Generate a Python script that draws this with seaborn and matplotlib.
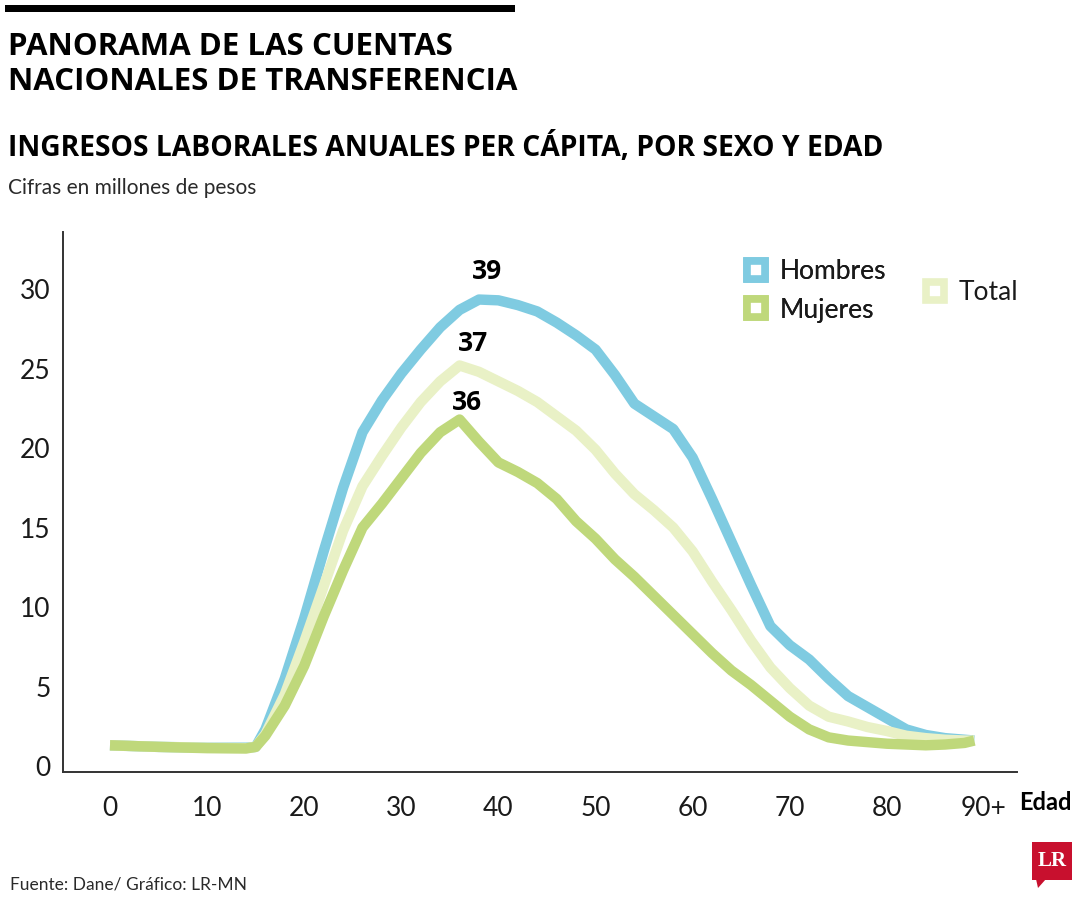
import matplotlib
matplotlib.use("Agg")
import matplotlib.pyplot as plt
from matplotlib.lines import Line2D
from matplotlib.patches import Rectangle, Polygon
import seaborn as sns
import pandas as pd

# ---------------- data ----------------
edad = [0, 5, 10, 14, 15, 16, 18, 20, 22, 24, 26, 28, 30, 32, 34, 36, 38, 40,
        42, 44, 46, 48, 50, 52, 54, 56, 58, 60, 62, 64, 66, 68, 70, 72, 74,
        76, 78, 80, 82, 84, 86, 88, 89]
hombres = [1.3, 1.2, 1.15, 1.15, 1.2, 2.3, 5.5, 9.3, 13.5, 17.5, 21.0, 23.0,
           24.7, 26.2, 27.6, 28.7, 29.35, 29.3, 29.0, 28.6, 27.9, 27.1, 26.2,
           24.6, 22.8, 22.0, 21.2, 19.4, 16.8, 14.1, 11.4, 8.8, 7.6, 6.7, 5.5,
           4.4, 3.7, 3.0, 2.3, 1.95, 1.75, 1.65, 1.6]
total = [1.3, 1.2, 1.15, 1.12, 1.2, 2.0, 4.5, 7.8, 11.3, 14.8, 17.6, 19.5,
         21.3, 22.9, 24.2, 25.2, 24.8, 24.2, 23.6, 22.9, 22.0, 21.1, 19.9,
         18.4, 17.1, 16.1, 15.0, 13.5, 11.6, 9.8, 7.9, 6.2, 4.9, 3.8, 3.1,
         2.8, 2.45, 2.2, 1.9, 1.75, 1.65, 1.6, 1.6]
mujeres = [1.3, 1.2, 1.12, 1.1, 1.2, 1.9, 3.8, 6.3, 9.4, 12.3, 15.0, 16.5,
           18.1, 19.7, 21.0, 21.8, 20.4, 19.1, 18.5, 17.8, 16.8, 15.4, 14.3,
           13.0, 11.9, 10.7, 9.5, 8.3, 7.1, 6.0, 5.1, 4.1, 3.1, 2.3, 1.8, 1.6,
           1.5, 1.4, 1.35, 1.3, 1.35, 1.45, 1.6]
series_names = ["Hombres", "Total", "Mujeres"]
series_colors = {"Hombres": "#7fcbe1", "Total": "#e9f1c6", "Mujeres": "#bfd87b"}
peak_labels = {"Hombres": "39", "Total": "37", "Mujeres": "36"}
xtick_vals = [0, 10, 20, 30, 40, 50, 60, 70, 80, 90]
xtick_labels = ["0", "10", "20", "30", "40", "50", "60", "70", "80", "90+"]
ytick_vals = [0, 5, 10, 15, 20, 25, 30]

df = pd.concat([
    pd.DataFrame({"Edad": edad, "Valor": hombres, "Serie": "Hombres"}),
    pd.DataFrame({"Edad": edad, "Valor": total, "Serie": "Total"}),
    pd.DataFrame({"Edad": edad, "Valor": mujeres, "Serie": "Mujeres"}),
])

# ---------------- style ----------------
sns.set_theme(style="white")
THIN = ["Lato", "DejaVu Sans"]
BOLD = ["Open Sans", "DejaVu Sans"]
plt.rcParams["font.family"] = THIN
plt.rcParams["font.weight"] = "normal"
TXT = "#1a1a1a"

fig = plt.figure(figsize=(10.8, 9), dpi=100)
ax = fig.add_axes([63 / 1080, 128 / 900, (1017 - 63) / 1080, (772 - 232) / 900])

sns.lineplot(data=df, x="Edad", y="Valor", hue="Serie", hue_order=series_names,
             palette=series_colors, linewidth=7.5, legend=False, ax=ax,
             solid_joinstyle="round", solid_capstyle="butt")

ax.set_xlim(-4.84, 93.4)
ax.set_ylim(-0.38, 33.6)
ax.set_xticks(xtick_vals)
ax.set_xticklabels(xtick_labels)
ax.set_yticks(ytick_vals)
ax.tick_params(axis="both", length=0, labelsize=19, colors=TXT)
ax.tick_params(axis="x", pad=17)
ax.tick_params(axis="y", pad=9)
ax.set_xlabel("")
ax.set_ylabel("")
for s in ["top", "right"]:
    ax.spines[s].set_visible(False)
for s in ["left", "bottom"]:
    ax.spines[s].set_color("#333333")
    ax.spines[s].set_linewidth(1.4)

# peak labels
peak_offsets = {"Hombres": (6, 20), "Total": (10, 16), "Mujeres": (5, 12)}
for name, vals in zip(series_names, [hombres, total, mujeres]):
    i = max(range(len(vals)), key=lambda k: vals[k])
    ax.annotate(peak_labels[name], (edad[i], vals[i]), xytext=peak_offsets[name],
                textcoords="offset points", ha="center", va="center",
                fontsize=19, fontweight="bold", family=BOLD, color="black")

# legends
def handle(c):
    return Line2D([], [], marker="s", ls="", ms=13.5, mew=5.5,
                  mfc="white", mec=c)

leg_kw = dict(frameon=False, handlelength=1.0, handletextpad=0.4,
              borderpad=0, borderaxespad=0, labelcolor=TXT,
              prop={"family": THIN, "size": 19, "weight": "normal"})
leg1 = fig.legend([handle(series_colors["Hombres"]), handle(series_colors["Mujeres"])],
                  ["Hombres", "Mujeres"], loc="center left",
                  bbox_to_anchor=(743 / 1080, 1 - 291 / 900),
                  labelspacing=0.5, **leg_kw)
fig.legend([handle(series_colors["Total"])], ["Total"], loc="center left",
           bbox_to_anchor=(922 / 1080, 1 - 293 / 900), **leg_kw)
fig.add_artist(leg1)

# axis label "Edad"
fig.text(1045 / 1080, 1 - 803 / 900, "Edad", ha="center", va="center",
         fontsize=17, fontweight="bold", family=THIN, color="black")

# titles
fig.add_artist(Rectangle((5 / 1080, 1 - 12 / 900), 510 / 1080, 7 / 900,
                         transform=fig.transFigure, color="black", lw=0))
fig.text(8 / 1080, 1 - 47 / 900, "PANORAMA DE LAS CUENTAS", ha="left", va="center",
         fontsize=22.5, fontweight="bold", family=BOLD, color="black")
fig.text(8 / 1080, 1 - 82 / 900, "NACIONALES DE TRANSFERENCIA", ha="left", va="center",
         fontsize=22.5, fontweight="bold", family=BOLD, color="black")
fig.text(8 / 1080, 1 - 147 / 900, "INGRESOS LABORALES ANUALES PER CÁPITA, POR SEXO Y EDAD",
         ha="left", va="center", fontsize=20.3, fontweight="bold", family=BOLD,
         color="black")
fig.text(8 / 1080, 1 - 188 / 900, "Cifras en millones de pesos", ha="left", va="center",
         fontsize=15, family=THIN, color="#2a2a2a")
fig.text(10 / 1080, 1 - 884 / 900, "Fuente: Dane/ Gráfico: LR-MN", ha="left", va="center",
         fontsize=12.5, family=THIN, color="#2a2a2a")

# LR logo
fig.add_artist(Rectangle((1032 / 1080, 1 - 880 / 900), 40 / 1080, 38 / 900,
                         transform=fig.transFigure, color="#c8102e", lw=0))
fig.add_artist(Polygon([(1036 / 1080, 1 - 879 / 900), (1046 / 1080, 1 - 879 / 900),
                        (1038 / 1080, 1 - 888 / 900)], closed=True,
                       transform=fig.transFigure, color="#c8102e", lw=0))
fig.text(1052 / 1080, 1 - 861 / 900, "LR", ha="center", va="center", fontsize=15,
         fontweight="bold", family=["Liberation Serif", "DejaVu Serif"], color="white")

fig.savefig("out.png", dpi=100, facecolor="white")
